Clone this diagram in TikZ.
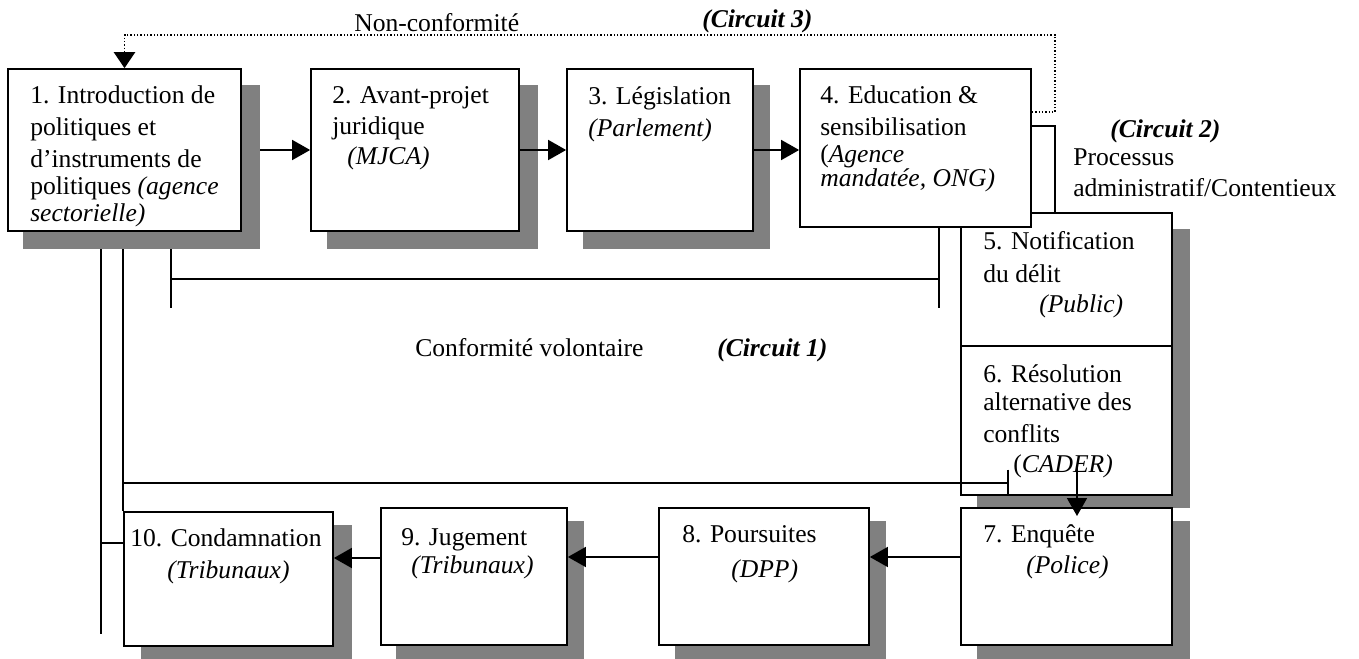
\documentclass[tikz,border=0pt]{standalone}
\usepackage{fontspec}
\setmainfont{Liberation Serif}
\usetikzlibrary{arrows.meta,fit}
\definecolor{shadowgray}{RGB}{128,128,128}
\begin{document}
\begin{tikzpicture}[x=0.75pt,y=-0.75pt,
  box/.style={draw, line width=1.3pt, fill=white, inner sep=0pt},
  shadowbox/.style={fill=shadowgray, draw=none, inner sep=0pt},
  txt/.style={anchor=base west, inner sep=0pt, font=\fontsize{19.2}{23}\selectfont},
  link/.style={line width=1.3pt},
  arr/.style={link, -{Triangle[width=15pt,length=13.5pt]}},
  dotline/.style={line width=1.1pt, dash pattern=on 1.1pt off 1.4pt, -{Triangle[width=16pt,length=12pt]}},
  barend/.style={link, -{Bar[width=20pt,line width=1.3pt]}}
]
\useasboundingbox (0,0) rectangle (1359,659);

% shadows
\node[shadowbox, fit={(23,85)(260,249)}] (s1) {};
\node[shadowbox, fit={(327,85)(538,249)}] (s2) {};
\node[shadowbox, fit={(583,85)(770,249)}] (s3) {};
\node[shadowbox, fit={(977,229)(1190,508)}] (s56) {};
\node[shadowbox, fit={(977,521)(1190,663)}] (s7) {};
\node[shadowbox, fit={(675,521)(886,663)}] (s8) {};
\node[shadowbox, fit={(396,521)(584,663)}] (s9) {};
\node[shadowbox, fit={(141,525)(352,663)}] (s10) {};

% boxes
\node[box, fit={(8,69)(241,231)}] (b1) {};
\node[box, fit={(311,69)(519,231)}] (b2) {};
\node[box, fit={(567,69)(753,231)}] (b3) {};
\node[box, fit={(961,213)(1172,346)}] (b5) {};
\node[box, fit={(961,346)(1172,495)}] (b6) {};
\node[box, fit={(800,69)(1031,227)}] (b4) {};
\node[box, fit={(961,508)(1172,645)}] (b7) {};
\node[box, fit={(659,508)(869,645)}] (b8) {};
\node[box, fit={(381,508)(567,645)}] (b9) {};
\node[box, fit={(124,512)(333,646)}] (b10) {};

% box texts
\node[txt] (t1a) at (30,104) {1. Introduction de};
\node[txt] (t1b) at (30,136) {politiques et};
\node[txt] (t1c) at (30,168) {d’instruments de};
\node[txt] (t1d) at (30,195) {politiques \textit{(agence}};
\node[txt] (t1e) at (30,222) {\textit{sectorielle)}};

\node[txt] (t2a) at (332,104) {2. Avant-projet};
\node[txt] (t2b) at (332,135) {juridique};
\node[txt] (t2c) at (347,165) {\textit{(MJCA)}};

\node[txt] (t3a) at (588,105) {3. Législation};
\node[txt] (t3b) at (588,137) {\textit{(Parlement)}};

\node[txt] (t4a) at (820,104) {4. Education \&};
\node[txt] (t4b) at (820,136) {sensibilisation};
\node[txt] (t4c) at (820,163) {(\textit{Agence}};
\node[txt] (t4d) at (820,187) {\textit{mandatée, ONG)}};

\node[txt] (t5a) at (983,250) {5. Notification};
\node[txt] (t5b) at (983,282) {du délit};
\node[txt] (t5c) at (1039,312) {\textit{(Public)}};

\node[txt] (t6a) at (983,382) {6. Résolution};
\node[txt] (t6b) at (983,410) {alternative des};
\node[txt] (t6c) at (983,442) {conflits};
\node[txt] (t6d) at (1013,472) {(\textit{CADER)}};

\node[txt] (t7a) at (983,542) {7. Enquête};
\node[txt] (t7b) at (1026,573) {\textit{(Police)}};

\node[txt] (t8a) at (682,542) {8. Poursuites};
\node[txt] (t8b) at (731,577) {\textit{(DPP)}};

\node[txt] (t9a) at (401,545) {9. Jugement};
\node[txt] (t9b) at (411,573) {\textit{(Tribunaux)}};

\node[txt] (t10a) at (130,546) {10. Condamnation};
\node[txt] (t10b) at (167,578) {\textit{(Tribunaux)}};

% free labels
\node[txt] (lnc) at (354,32) {Non-conformité};
\node[txt] (lc3) at (702,28) {\textbf{\textit{(Circuit 3)}}};
\node[txt] (lc2) at (1110,138) {\textbf{\textit{(Circuit 2)}}};
\node[txt] (lp1) at (1073,166) {Processus};
\node[txt] (lp2) at (1073,197) {administratif/Contentieux};
\node[txt] (lcv) at (415,356) {Conformité volontaire};
\node[txt] (lc1) at (717,356) {\textbf{\textit{(Circuit 1)}}};

% named free ends
\coordinate (d0) at (1055,112);
\coordinate (d1) at (1055,35);
\coordinate (k0) at (1055,126);
\coordinate (e1) at (101,634);
\coordinate (j1) at (101,543);
\coordinate (e3) at (171,308);
\coordinate (h3) at (171,279);
\coordinate (e4) at (939,308);
\coordinate (tick) at (1009,483);
\coordinate (a6) at (1077,468);
\coordinate (a7) at (1077,516);
\coordinate (yA) at (0,557);
\coordinate (yB) at (0,558);

% Circuit 3 (dotted)
\draw[dotline] (d0 -| b4.east) -- (d0) -- (d1) -- (d1 -| b1.north) -- (b1.north);

% main chain
\draw[arr] (s1.east |- b2.west) -- (b2.west);
\draw[arr] (b2.east) -- (b3.west);
\draw[arr] (b3.east) -- (b3.east -| b4.west);

% Circuit 2
\draw[link] (k0 -| b4.east) -- (k0) -- (k0 |- b5.north);
\draw[arr] (a6) -- (a7);

% bottom chain
\draw[arr] (b7.west |- yA) -- (b8.east |- yA);
\draw[arr] (b8.west |- yA) -- (b9.east |- yA);
\draw[arr] (b9.west |- yB) -- (b10.east |- yB);

% Circuit 1 and returns
\draw[link] (s1.south -| e3) -- (e3);
\draw[link] (b4.south -| e4) -- (e4);
\draw[link] (h3) -- (h3 -| e4);
\draw[link] (s1.south -| b10.north west) -- (b10.north west);
\draw[barend] (b10.north west |- tick) -- (tick);
\draw[link] (s1.south -| e1) -- (e1);
\draw[link] (j1) -- (j1 -| b10.west);
\end{tikzpicture}
\end{document}
